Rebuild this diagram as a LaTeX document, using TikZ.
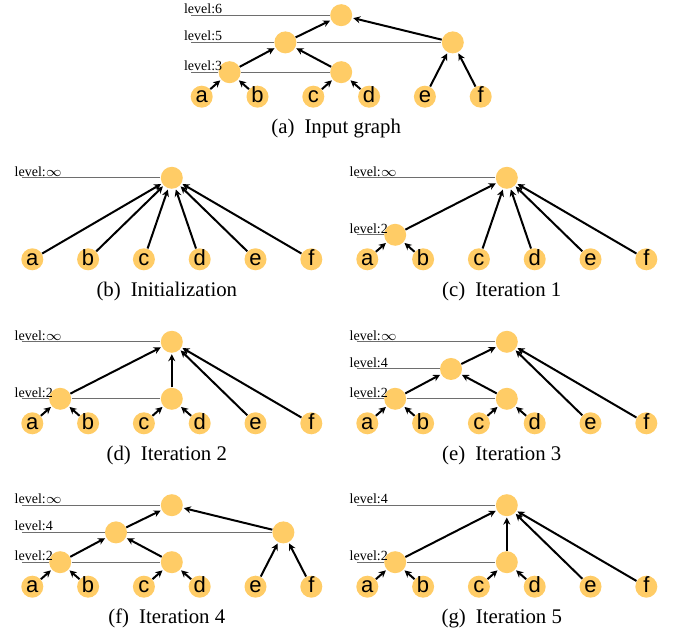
\documentclass[tikz,border=0pt]{standalone}
\usepackage{fontspec}
\setmainfont{Liberation Serif}
\newfontfamily\leaffont{Liberation Sans}
\usepackage{tikz}
\usetikzlibrary{arrows.meta,shapes}
\definecolor{ndyellow}{RGB}{255,204,102}
\definecolor{lvgray}{RGB}{110,110,110}
\tikzstyle{vtx} = [circle, fill=ndyellow, minimum size=11pt, inner sep=0pt]
\tikzstyle{leaf} = [vtx, font=\leaffont\fontsize{11}{11}\selectfont, text height=6pt, text depth=0pt]
\tikzstyle{edge} = [line width=1pt, -{Stealth[length=3.5pt,width=3.5pt]}, shorten >=0.5pt]
\tikzstyle{lvline} = [line width=0.5pt, color=lvgray]
\tikzstyle{lvtext} = [font=\fontsize{7}{8}\selectfont, inner sep=0pt, anchor=base west]
\tikzstyle{caption} = [font=\fontsize{10.4}{12}\selectfont, inner sep=0pt, anchor=base]

% the six leaves of one panel
\newcommand{\leafrow}{%
  \node[leaf] (a) at (0,0) {a};
  \node[leaf] (b) at (55.8,0) {b};
  \node[leaf] (c) at (111.6,0) {c};
  \node[leaf] (d) at (167.4,0) {d};
  \node[leaf] (e) at (223.2,0) {e};
  \node[leaf] (f) at (279,0) {f};}
% start of a level line and its label
\newcommand{\levelmark}[3]{%
  \coordinate (#1) at (-10.5,#2);
  \node[lvtext] (#1t) at (-18,{#2+1.7}) {level:#3};}
% sub-caption with its label
\newcommand{\subcap}[2]{(#1)\hskip 5pt #2}

\begin{document}
\begin{tikzpicture}[x=0.5pt, y=0.5pt]
\useasboundingbox (0,0) rectangle (673,635);

% (a)
\begin{scope}[shift={(201.7,538.3)}]
\leafrow
\node[vtx] (ab) at (27.9,24.5) {};
\node[vtx] (cd) at (139.5,24.5) {};
\node[vtx] (mid) at (83.7,54.3) {};
\node[vtx] (ef) at (251.1,54.3) {};
\node[vtx] (root) at (139.5,81.5) {};
\levelmark{l6}{81.5}{6}
\levelmark{l5}{54.3}{5}
\levelmark{l3}{24.5}{3}
\draw[lvline] (l6) -- (root);
\draw[lvline] (l5) -- (mid) (mid) -- (ef);
\draw[lvline] (l3) -- (ab) (ab) -- (cd);
\draw[edge] (a) -- (ab);
\draw[edge] (b) -- (ab);
\draw[edge] (c) -- (cd);
\draw[edge] (d) -- (cd);
\draw[edge] (ab) -- (mid);
\draw[edge] (cd) -- (mid);
\draw[edge] (mid) -- (root);
\draw[edge] (e) -- (ef);
\draw[edge] (f) -- (ef);
\draw[edge] (ef) -- (root);
\node[caption] (capa) at (134.5,-37) {\subcap{a}{Input graph}};
\end{scope}

% (b)
\begin{scope}[shift={(32.3,375.7)}]
\leafrow
\node[vtx] (root) at (139.5,81.5) {};
\levelmark{linf}{81.5}{$\infty$}
\draw[lvline] (linf) -- (root);
\draw[edge] (a) -- (root);
\draw[edge] (b) -- (root);
\draw[edge] (c) -- (root);
\draw[edge] (d) -- (root);
\draw[edge] (e) -- (root);
\draw[edge] (f) -- (root);
\node[caption] (capb) at (134.5,-37) {\subcap{b}{Initialization}};
\end{scope}

% (c)
\begin{scope}[shift={(367.3,375.7)}]
\leafrow
\node[vtx] (ab) at (27.9,24.5) {};
\node[vtx] (root) at (139.5,81.5) {};
\levelmark{linf}{81.5}{$\infty$}
\levelmark{l2}{24.5}{2}
\draw[lvline] (linf) -- (root);
\draw[lvline] (l2) -- (ab);
\draw[edge] (a) -- (ab);
\draw[edge] (b) -- (ab);
\draw[edge] (ab) -- (root);
\draw[edge] (c) -- (root);
\draw[edge] (d) -- (root);
\draw[edge] (e) -- (root);
\draw[edge] (f) -- (root);
\node[caption] (capc) at (134.5,-37) {\subcap{c}{Iteration 1}};
\end{scope}

% (d)
\begin{scope}[shift={(32.3,211.7)}]
\leafrow
\node[vtx] (ab) at (27.9,24.5) {};
\node[vtx] (cd) at (139.5,24.5) {};
\node[vtx] (root) at (139.5,81.5) {};
\levelmark{linf}{81.5}{$\infty$}
\levelmark{l2}{24.5}{2}
\draw[lvline] (linf) -- (root);
\draw[lvline] (l2) -- (ab) (ab) -- (cd);
\draw[edge] (a) -- (ab);
\draw[edge] (b) -- (ab);
\draw[edge] (c) -- (cd);
\draw[edge] (d) -- (cd);
\draw[edge] (ab) -- (root);
\draw[edge] (cd) -- (root);
\draw[edge] (e) -- (root);
\draw[edge] (f) -- (root);
\node[caption] (capd) at (134.5,-37) {\subcap{d}{Iteration 2}};
\end{scope}

% (e)
\begin{scope}[shift={(367.3,211.7)}]
\leafrow
\node[vtx] (ab) at (27.9,24.5) {};
\node[vtx] (cd) at (139.5,24.5) {};
\node[vtx] (mid) at (83.7,54.3) {};
\node[vtx] (root) at (139.5,81.5) {};
\levelmark{linf}{81.5}{$\infty$}
\levelmark{l4}{54.3}{4}
\levelmark{l2}{24.5}{2}
\draw[lvline] (linf) -- (root);
\draw[lvline] (l4) -- (mid);
\draw[lvline] (l2) -- (ab) (ab) -- (cd);
\draw[edge] (a) -- (ab);
\draw[edge] (b) -- (ab);
\draw[edge] (c) -- (cd);
\draw[edge] (d) -- (cd);
\draw[edge] (ab) -- (mid);
\draw[edge] (cd) -- (mid);
\draw[edge] (mid) -- (root);
\draw[edge] (e) -- (root);
\draw[edge] (f) -- (root);
\node[caption] (cape) at (134.5,-37) {\subcap{e}{Iteration 3}};
\end{scope}

% (f)
\begin{scope}[shift={(32.3,48.3)}]
\leafrow
\node[vtx] (ab) at (27.9,24.5) {};
\node[vtx] (cd) at (139.5,24.5) {};
\node[vtx] (mid) at (83.7,54.3) {};
\node[vtx] (ef) at (251.1,54.3) {};
\node[vtx] (root) at (139.5,81.5) {};
\levelmark{linf}{81.5}{$\infty$}
\levelmark{l4}{54.3}{4}
\levelmark{l2}{24.5}{2}
\draw[lvline] (linf) -- (root);
\draw[lvline] (l4) -- (mid) (mid) -- (ef);
\draw[lvline] (l2) -- (ab) (ab) -- (cd);
\draw[edge] (a) -- (ab);
\draw[edge] (b) -- (ab);
\draw[edge] (c) -- (cd);
\draw[edge] (d) -- (cd);
\draw[edge] (ab) -- (mid);
\draw[edge] (cd) -- (mid);
\draw[edge] (mid) -- (root);
\draw[edge] (e) -- (ef);
\draw[edge] (f) -- (ef);
\draw[edge] (ef) -- (root);
\node[caption] (capf) at (134.5,-37) {\subcap{f}{Iteration 4}};
\end{scope}

% (g)
\begin{scope}[shift={(367.3,48.3)}]
\leafrow
\node[vtx] (ab) at (27.9,24.5) {};
\node[vtx] (cd) at (139.5,24.5) {};
\node[vtx] (root) at (139.5,81.5) {};
\levelmark{l4}{81.5}{4}
\levelmark{l2}{24.5}{2}
\draw[lvline] (l4) -- (root);
\draw[lvline] (l2) -- (ab) (ab) -- (cd);
\draw[edge] (a) -- (ab);
\draw[edge] (b) -- (ab);
\draw[edge] (c) -- (cd);
\draw[edge] (d) -- (cd);
\draw[edge] (ab) -- (root);
\draw[edge] (cd) -- (root);
\draw[edge] (e) -- (root);
\draw[edge] (f) -- (root);
\node[caption] (capg) at (134.5,-37) {\subcap{g}{Iteration 5}};
\end{scope}
\end{tikzpicture}
\end{document}
